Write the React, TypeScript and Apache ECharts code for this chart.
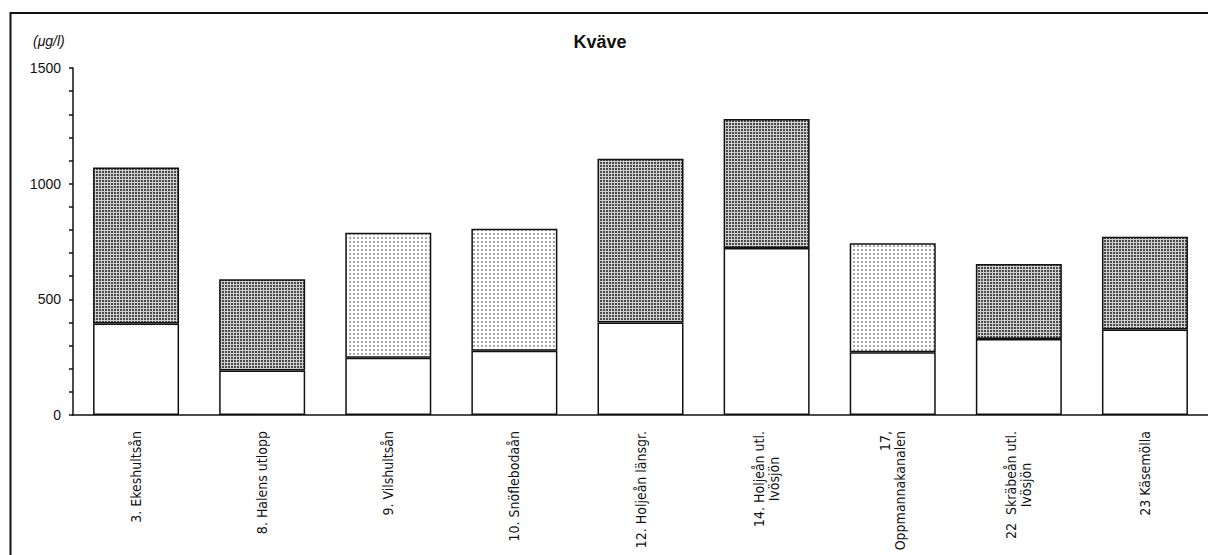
import React, { useEffect, useRef } from "react";
import * as echarts from "echarts";

const categories = [
  "3. Ekeshultsån",
  "8. Halens utlopp",
  "9. Vilshultsån",
  "10. Snöflebodaån",
  "12. Holjeån länsgr.",
  "14. Holjeån utl.\nIvösjön",
  "17,\nOppmannakanalen",
  "22  Skräbeån utl.\nIvösjön",
  "23 Käsemölla",
];
const lowerValues = [395, 192, 248, 278, 400, 722, 271, 329, 370];
const upperValues = [675, 395, 540, 527, 708, 558, 471, 324, 401];
const upperPattern = ["dark", "dark", "light", "light", "dark", "dark", "light", "dark", "dark"];
const centeredLines = [false, false, false, false, false, true, false, true, false];
const yTickLabels = [0, 500, 1000, 1500];

const TITLE = "Kväve";
const UNIT = "(μg/l)";
const LABEL_FONT = "'Liberation Sans Narrow', 'Arial Narrow', 'DejaVu Sans Condensed', 'Liberation Sans', sans-serif";
const MAIN_FONT = "'Liberation Sans', Arial, sans-serif";
const LABEL_SIZE = 14;
const LABEL_LINE = 15;
const LABEL_GAP = 16;

function makePattern(kind: string): HTMLCanvasElement {
  const c = document.createElement("canvas");
  if (kind === "dark") {
    c.width = 3;
    c.height = 3;
    const ctx = c.getContext("2d")!;
    ctx.fillStyle = "#cfcfcf";
    ctx.fillRect(0, 0, 3, 3);
    ctx.fillStyle = "#4a4a4a";
    ctx.fillRect(0, 0, 2, 2);
  } else {
    c.width = 4;
    c.height = 4;
    const ctx = c.getContext("2d")!;
    ctx.fillStyle = "#ffffff";
    ctx.fillRect(0, 0, 4, 4);
    ctx.fillStyle = "#a8a8a8";
    ctx.fillRect(1, 1, 2, 2);
  }
  return c;
}

function measure(text: string, font: string): number {
  const c = document.createElement("canvas");
  const ctx = c.getContext("2d")!;
  ctx.font = font;
  return ctx.measureText(text).width;
}

export default function App() {
  const ref = useRef<HTMLDivElement>(null);
  useEffect(() => {
    if (!ref.current) return;
    const chart = echarts.init(ref.current, null, { renderer: "svg" });
    const patterns: Record<string, HTMLCanvasElement> = {
      dark: makePattern("dark"),
      light: makePattern("light"),
    };
    const baseGraphics: any[] = [
      {
        type: "rect",
        shape: { x: 10.5, y: 13, width: 1230, height: 580 },
        style: { fill: "none", stroke: "#111", lineWidth: 2 },
        silent: true,
        z: 100,
      },
      {
        type: "text",
        x: 33,
        y: 34,
        style: { text: UNIT, fontFamily: MAIN_FONT, fontSize: 14, fontStyle: "italic", fill: "#111" },
      },
    ];
    const option: any = {
      animation: false,
      backgroundColor: "#ffffff",
      title: {
        text: TITLE,
        left: 595,
        top: 28,
        textAlign: "center",
        textStyle: { fontFamily: MAIN_FONT, fontSize: 18, fontWeight: "bold", color: "#111" },
      },
      graphic: baseGraphics,
      grid: { left: 73, top: 68, width: 1137, height: 347, containLabel: false },
      xAxis: {
        type: "category",
        data: categories,
        axisLine: { show: true, lineStyle: { color: "#111", width: 1.5 } },
        axisTick: { show: false },
        axisLabel: { show: false },
        splitLine: { show: false },
      },
      yAxis: {
        type: "value",
        min: 0,
        max: 1500,
        interval: 100,
        axisLine: { show: true, lineStyle: { color: "#111", width: 1.5 } },
        axisTick: { show: true, length: 4, lineStyle: { color: "#111", width: 1.5 } },
        axisLabel: {
          fontFamily: MAIN_FONT,
          fontSize: 14,
          color: "#111",
          margin: 12,
          formatter: (v: number) => (yTickLabels.indexOf(v) >= 0 ? String(v) : ""),
        },
        splitLine: { show: false },
      },
      series: [
        {
          type: "bar",
          stack: "total",
          barWidth: 86,
          data: lowerValues,
          itemStyle: { color: "#ffffff", borderColor: "#111", borderWidth: 1.5 },
        },
        {
          type: "bar",
          stack: "total",
          barWidth: 86,
          data: upperValues.map((v, i) => ({
            value: v,
            itemStyle: { color: { image: patterns[upperPattern[i]], repeat: "repeat" } },
          })),
          itemStyle: { borderColor: "#111", borderWidth: 1.5 },
        },
      ],
    };
    chart.setOption(option);

    // x-axis labels placed through the library's own scales
    const y0 = chart.convertToPixel({ yAxisIndex: 0 }, 0) as number;
    const fontStr = LABEL_SIZE + "px " + LABEL_FONT;
    const labelGraphics = categories.map((cat, i) => {
      const cx = chart.convertToPixel({ xAxisIndex: 0 }, i) as number;
      const lines = cat.split("\n");
      const centered = centeredLines[i];
      let anchorY = y0 + LABEL_GAP;
      if (centered) {
        const w = Math.max(...lines.map((l) => measure(l, fontStr)));
        anchorY += w / 2;
      }
      return {
        type: "text",
        x: cx,
        y: anchorY,
        rotation: Math.PI / 2,
        style: {
          text: cat,
          fontFamily: LABEL_FONT,
          fontSize: LABEL_SIZE,
          lineHeight: LABEL_LINE,
          fill: "#111",
          align: centered ? "center" : "right",
          verticalAlign: "middle",
        },
      };
    });
    chart.setOption({ graphic: [...baseGraphics, ...labelGraphics] });
    return () => chart.dispose();
  }, []);
  return (
    <div
      ref={ref}
      style={{ position: "fixed", left: 0, top: 0, width: 1208, height: 555, background: "#fff" }}
    />
  );
}
